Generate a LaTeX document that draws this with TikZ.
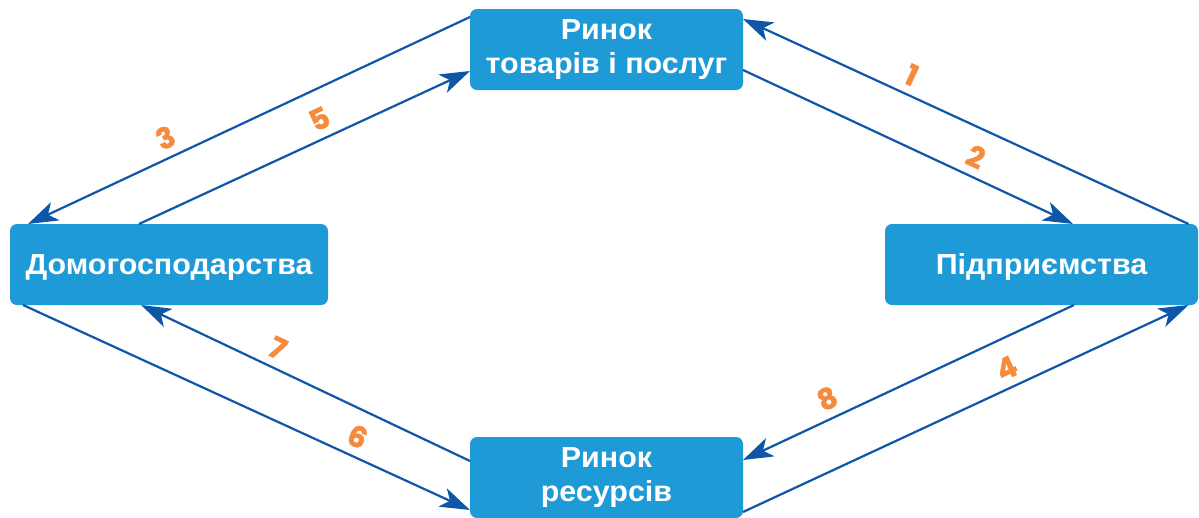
\documentclass[tikz,border=0pt]{standalone}
\usepackage{fontspec}
\setmainfont{Liberation Sans}[FakeStretch=1.05]
\newfontfamily\numfont{Poppins}[FakeBold=1.5]
\usepackage{tikz}
\usetikzlibrary{arrows.meta,calc}
\definecolor{boxblue}{HTML}{1E9AD6}
\definecolor{lineblue}{HTML}{0D56A8}
\definecolor{numorange}{HTML}{F68B3D}
\tikzset{
  mkt/.style={ rectangle, rounded corners=7pt, fill=boxblue, text=white, inner sep=0pt, outer sep=0pt,
    minimum width=273pt, minimum height=81pt, align=center, font=\bfseries\fontsize{29}{34.5}\selectfont,
    execute at begin node={\rule{0pt}{27pt}} }
}
\tikzset{
  agent/.style={ mkt, minimum width=318pt, execute at begin node={\rule{0pt}{25pt}} }
}
\tikzset{
  flow/.style={ draw=lineblue, line width=2.2pt, -{Stealth[length=30pt, width=20pt, inset=8pt]} }
}
\tikzset{
  num/.style={ sloped, above=8pt, inner sep=0pt, text=numorange, font=\numfont\bfseries\fontsize{29}{29}\selectfont }
}

\begin{document}
\begin{tikzpicture}[x=1pt, y=-1pt]
      \useasboundingbox (0,0) rectangle (1199,517);
      \node[mkt] (goods) at (606.5, 49.5) {Ринок\\товарів і послуг};
      \node[agent] (house) at (169, 264.5) {Домогосподарства};
      \node[agent, minimum width=313pt] (firms) at (1041.5, 264.5) {Підприємства};
      \node[mkt] (res) at (606.5, 477.5) {Ринок\\ресурсів};
      % upper flows
      \draw[flow] ($(firms.north east)+(-9.5,0)$) -- node[num, pos=0.64] {1} ($(goods.north east)+(0,10)$);
      \draw[flow] ($(goods.south east)+(0,-20)$) -- node[num, pos=0.68] {2} ($(firms.north west)+(188,0)$);
      \draw[flow] ($(goods.north west)+(0,8)$) -- node[num, pos=0.67] {3} ($(house.north west)+(18,0)$);
      \draw[flow] ($(house.north west)+(129,0)$) -- node[num, pos=0.57] {5} ($(goods.south west)+(0,-19)$);
      % lower flows
      \draw[flow] ($(house.south west)+(13,0)$) -- node[num, pos=0.73] {6} ($(res.south west)+(0,-8)$);
      \draw[flow] ($(res.north west)+(0,24)$) -- node[num, pos=0.61] {7} ($(house.south west)+(131,0)$);
      \draw[flow] ($(firms.south west)+(189,0)$) -- node[num, pos=0.72] {8} ($(res.north east)+(0,23)$);
      \draw[flow] ($(res.south east)+(0,-6)$) -- node[num, pos=0.61] {4} ($(firms.south east)+(-9.5,0)$);
    \end{tikzpicture}
\end{document}
